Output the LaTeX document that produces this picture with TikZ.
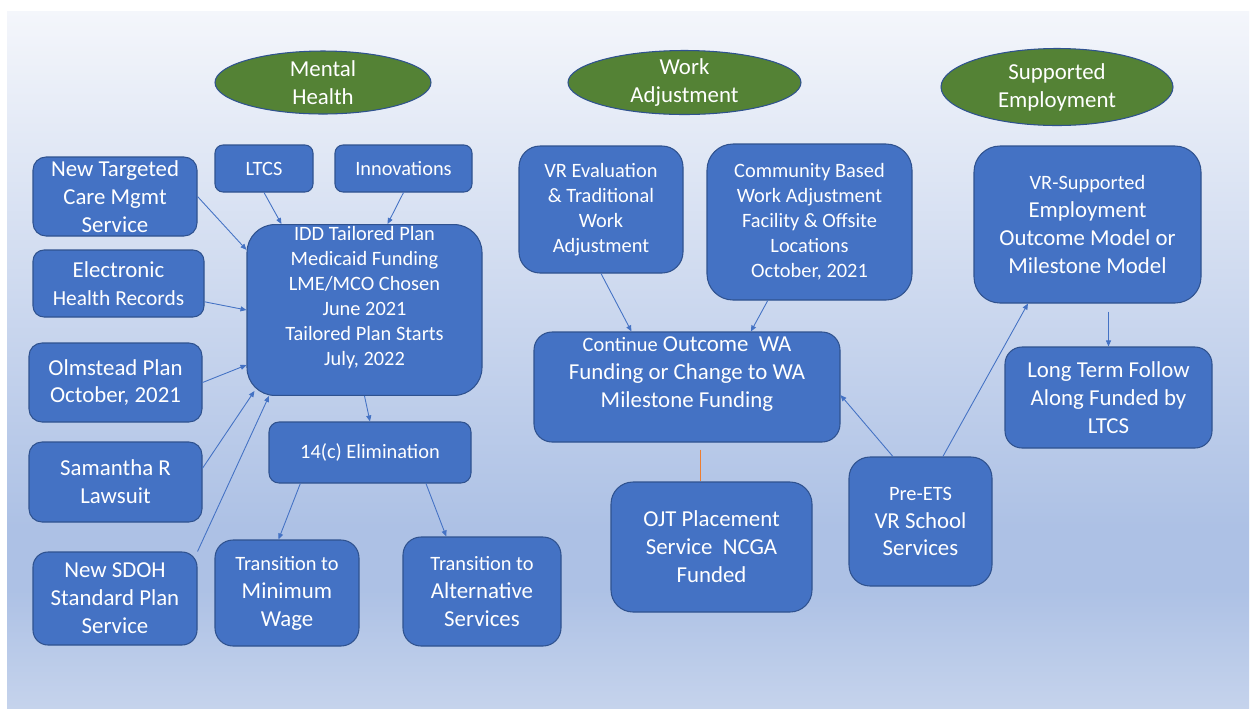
\documentclass[tikz,border=0pt]{standalone}
\usepackage{fontspec}
\setmainfont{Carlito}
\usetikzlibrary{calc}
\usetikzlibrary{arrows.meta}
\usetikzlibrary{shapes.geometric}
\definecolor{boxblue}{HTML}{4472C4}
\definecolor{boxline}{HTML}{2F528F}
\definecolor{hubgreen}{HTML}{548235}
\definecolor{wireblue}{HTML}{4472C4}
\definecolor{ojtline}{HTML}{ED7D31}
\definecolor{bgtop}{HTML}{F4F6FB}
\definecolor{bgmid}{HTML}{ADC1E5}
\definecolor{bgbot}{HTML}{C5D3EC}
\pgfdeclareverticalshading{slidebg}{100bp}{color(0bp)=(bgbot); color(25bp)=(bgbot); color(33.5bp)=(bgmid); color(38bp)=(bgmid); color(75bp)=(bgtop); color(100bp)=(bgtop)}
\newcommand{\bigtxt}{\fontsize{13}{15.9}\selectfont}
\newcommand{\smtxt}{\fontsize{11.6}{14.2}\selectfont}

\begin{document}
\begin{tikzpicture}[x=0.02cm, y=-0.02cm,
  wh/.style 2 args={minimum width=#1*0.02cm, minimum height=#2*0.02cm},
  box/.style={draw=boxline, line width=0.6pt, fill=boxblue, text=white, align=center,
    inner sep=1pt, font=\bigtxt, rounded corners=#1*0.02cm},
  box/.default=15,
  hub/.style={ellipse, draw=boxline, line width=0.6pt, fill=hubgreen, inner sep=0pt},
  hubtxt/.style={text=white, align=center, font=\bigtxt},
  wire/.style={draw=wireblue, line width=0.5pt, -{Triangle[length=0.12cm, width=0.1cm]}}]
\fill[white] (0,0) rectangle (1252,708);
\shade[shading=slidebg] (7,11) rectangle (1249,708);
\useasboundingbox (0,0) rectangle (1252,708);

\node[hub, wh={216}{63}, label={[hubtxt]center:Mental\\Health}] (mh) at (323,82.5) {};
\node[hub, wh={233}{64}, label={[hubtxt]center:Work\\Adjustment}] (wa) at (684.5,82.5) {};
\node[hub, wh={232}{77}, label={[hubtxt]center:Supported\\Employment}] (se) at (1057,87) {};

\node[box=13, wh={164}{79}] (tcm) at (115,196.5) {New Targeted\\Care Mgmt\\Service};
\node[box=11, wh={171}{67}] (ehr) at (118.5,283.5) {Electronic\\{\fontsize{12.2}{15.9}\selectfont Health Records}};
\node[box=13, wh={173}{79}] (olm) at (115.5,382.5) {Olmstead Plan\\October, 2021};
\node[box=13, wh={173}{80}] (sam) at (115.5,482) {Samantha R\\Lawsuit};
\node[box=15, wh={164}{93}] (sdoh) at (115,598.5) {New SDOH\\Standard Plan\\Service};
\node[box=8, wh={98}{47}, font=\smtxt] (ltcs) at (264,168.5) {LTCS};
\node[box=8, wh={137}{47}, font=\smtxt] (inn) at (403.5,168.5) {Innovations};
\node[box=28, wh={235}{170}, font=\smtxt] (idd) at (364.5,310) {IDD Tailored Plan\\Medicaid Funding\\LME/MCO Chosen\\June 2021\\Tailored Plan Starts\\July, 2022\\[2pt]\mbox{}};
\node[box=10, wh={202}{61}, font=\smtxt] (elim) at (370,452.5) {14(c) Elimination};
\node[box=18, wh={144}{106}] (minw) at (287,593) {{\smtxt Transition to}\\Minimum\\Wage};
\node[box=18, wh={158}{109}] (alt) at (482,591.5) {{\smtxt Transition to}\\Alternative\\Services};

\node[box=21, wh={164}{127}, font=\smtxt] (vre) at (601,209.5) {VR Evaluation\\\& Traditional\\Work\\Adjustment};
\node[box=26, wh={205}{156}, font=\smtxt] (cba) at (809.5,222) {Community Based\\Work Adjustment\\Facility \& Offsite\\Locations\\October, 2021};
\node[box=18, wh={306}{110}] (cont) at (687,387) {{\smtxt Continue} Outcome~~WA\\Funding or Change to WA\\Milestone Funding\\[1pt]\mbox{}};
\node[box=22, wh={201}{130}] (ojt) at (711.5,547) {OJT Placement\\Service~~NCGA\\Funded};
\node[box=21, wh={143}{129}] (pre) at (920.5,521.5) {{\smtxt Pre-ETS}\\VR School\\Services};
\node[box=26, wh={227}{157}] (vrs) at (1087.5,224.5) {{\smtxt VR-Supported}\\Employment\\Outcome Model or\\Milestone Model};
\node[box=17, wh={207}{101}] (ltf) at (1108.5,397.5) {Long Term Follow\\Along Funded by\\LTCS};

\draw[wire] (tcm.east) -- (idd.153);
\draw[wire] (ehr.-12) -- (idd.west);
\draw[wire] (olm.east) -- (idd.205);
\draw[wire] (sam.9) -- ($(idd.south west)+(8,-5)$);
\draw[wire] (sdoh.north east) -- (idd.222);
\draw[wire] (ltcs.south) -- (idd.134);
\draw[wire] (inn.south) -- (idd.75);
\draw[wire] (idd.south) -- (elim.north);
\draw[wire] (elim.204) -- (minw.99);
\draw[wire] (elim.-29) -- (alt.123);

\draw[wire] (vre.south) -- (cont.135);
\draw[wire] (cba.242) -- (cont.41);
\draw[wire] (pre.113) -- (cont.-3);
\draw[wire] (pre.71) -- (vrs.233);
\draw[wire, shorten <=0.16cm] (ltf.north |- vrs.south) -- (ltf.north);
\coordinate (ojtin) at ([xshift=-0.23cm]ojt.north);
\draw[ojtline, line width=0.5pt, shorten <=0.14cm] (ojtin |- cont.south) -- (ojtin);
\end{tikzpicture}
\end{document}
